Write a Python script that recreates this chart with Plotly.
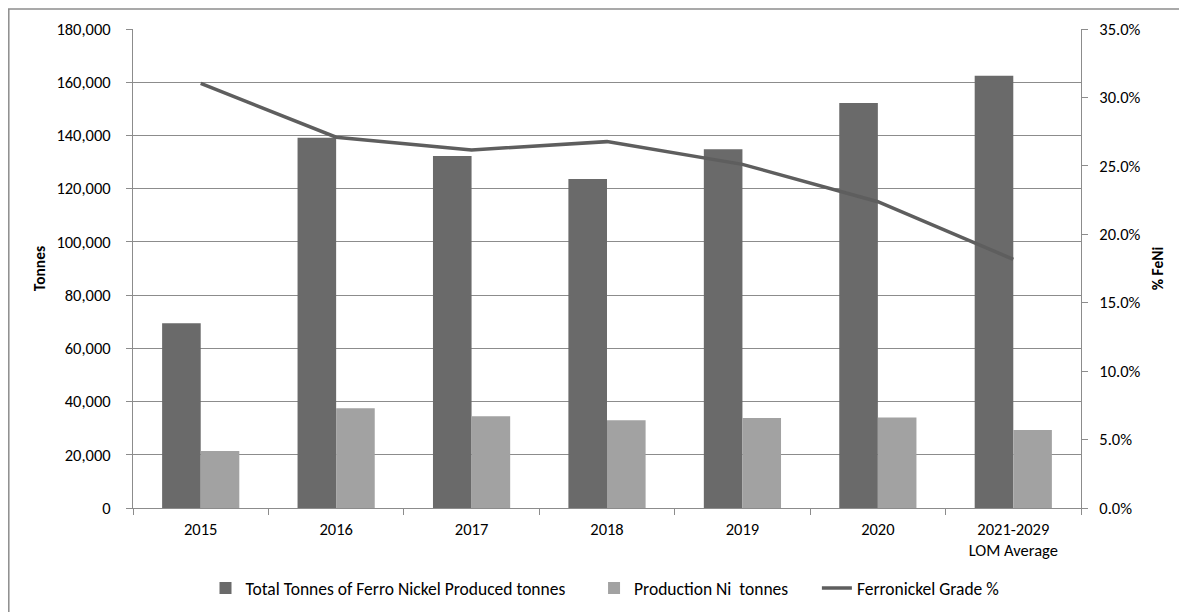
import plotly.graph_objects as go

categories = ["2015", "2016", "2017", "2018", "2019", "2020", "2021-2029<br>LOM Average"]
total_feni_tonnes = [69400, 139150, 132300, 123600, 134800, 152200, 162450]
production_ni_tonnes = [21400, 37500, 34500, 33000, 33800, 34000, 29300]
feni_grade_pct = [0.3103, 0.2709, 0.2616, 0.2677, 0.2511, 0.2238, 0.1817]

left_ticks = [0, 20000, 40000, 60000, 80000, 100000, 120000, 140000, 160000, 180000]
right_ticks = [0, 0.05, 0.10, 0.15, 0.20, 0.25, 0.30, 0.35]

FONT = "Carlito, Calibri, Lato, 'Open Sans', sans-serif"
GRID = "#8c8c8c"
FS = 16.5
GAP = "\u00a0" * 6  # extra spacing between legend entries

# page is rendered with an 8px body margin
OFF = 8
PAGE_W, PAGE_H = 1187, 612
W, H = PAGE_W - OFF, PAGE_H - OFF
# plot area in page pixels
L, R, T, B = 133, 1081, 29, 508
pw, ph = R - L, B - T

def px_x(p):
    return (p - L) / pw

def px_y(p):
    return (B - p) / ph

fig = go.Figure()
fig.add_trace(go.Bar(
    x=categories, y=total_feni_tonnes, name="Total Tonnes of Ferro Nickel Produced tonnes" + GAP,
    marker=dict(color="#6a6a6a", line=dict(width=0)), yaxis="y",
))
fig.add_trace(go.Bar(
    x=categories, y=production_ni_tonnes, name="Production Ni  tonnes" + GAP,
    marker=dict(color="#a2a2a2", line=dict(width=0)), yaxis="y",
))
fig.add_trace(go.Scatter(
    x=categories, y=feni_grade_pct, name="Ferronickel Grade %", mode="lines",
    line=dict(color="#5e5e5e", width=3.5), yaxis="y2",
))

fig.update_layout(
    width=W, height=H,
    margin=dict(l=L - OFF, r=PAGE_W - R, t=T - OFF, b=PAGE_H - B, pad=0, autoexpand=False),
    paper_bgcolor="white", plot_bgcolor="white",
    font=dict(family=FONT, size=FS, color="#000000"),
    barmode="group", bargap=0.43, bargroupgap=0.0,
    showlegend=True,
    legend=dict(orientation="h", x=px_x(605), xanchor="center",
                yref="container", y=(PAGE_H - 588) / H, yanchor="middle",
                font=dict(family=FONT, size=17.5), itemwidth=30, traceorder="normal",
                bgcolor="rgba(0,0,0,0)"),
    xaxis=dict(
        type="category", showgrid=False, showline=True, linecolor=GRID, linewidth=1,
        ticks="outside", ticklen=6, tickcolor=GRID, tickson="boundaries",
        tickfont=dict(family=FONT, size=FS), ticklabelstandoff=6, automargin=False,
    ),
    yaxis=dict(
        range=[0, 180000], tickvals=left_ticks, tickformat=",d",
        showgrid=True, gridcolor=GRID, gridwidth=1,
        showline=True, linecolor=GRID, linewidth=1,
        ticks="outside", ticklen=6, tickcolor=GRID, automargin=False,
        tickfont=dict(family=FONT, size=FS), zeroline=False, ticklabelstandoff=12,
        title=dict(text="<b>Tonnes</b>", font=dict(family=FONT, size=FS - 1), standoff=6),
    ),
    yaxis2=dict(
        range=[0, 0.35], tickvals=right_ticks, tickformat=".1%",
        overlaying="y", side="right", showgrid=False,
        showline=True, linecolor=GRID, linewidth=1,
        ticks="outside", ticklen=6, tickcolor=GRID, automargin=False,
        tickfont=dict(family=FONT, size=FS), zeroline=False, ticklabelstandoff=8,
        title=dict(text="<b>% FeNi</b>", font=dict(family=FONT, size=FS - 1), standoff=12),
    ),
    shapes=[
        dict(type="line", xref="paper", yref="paper", x0=px_x(OFF), x1=px_x(PAGE_W + 5),
             y0=px_y(9), y1=px_y(9), line=dict(color="#8c8c8c", width=1.5)),
        dict(type="line", xref="paper", yref="paper", x0=px_x(OFF + 0.8), x1=px_x(OFF + 0.8),
             y0=px_y(9), y1=px_y(PAGE_H + 5), line=dict(color="#8c8c8c", width=1.5)),
    ],
)

fig.write_html("out.html")
